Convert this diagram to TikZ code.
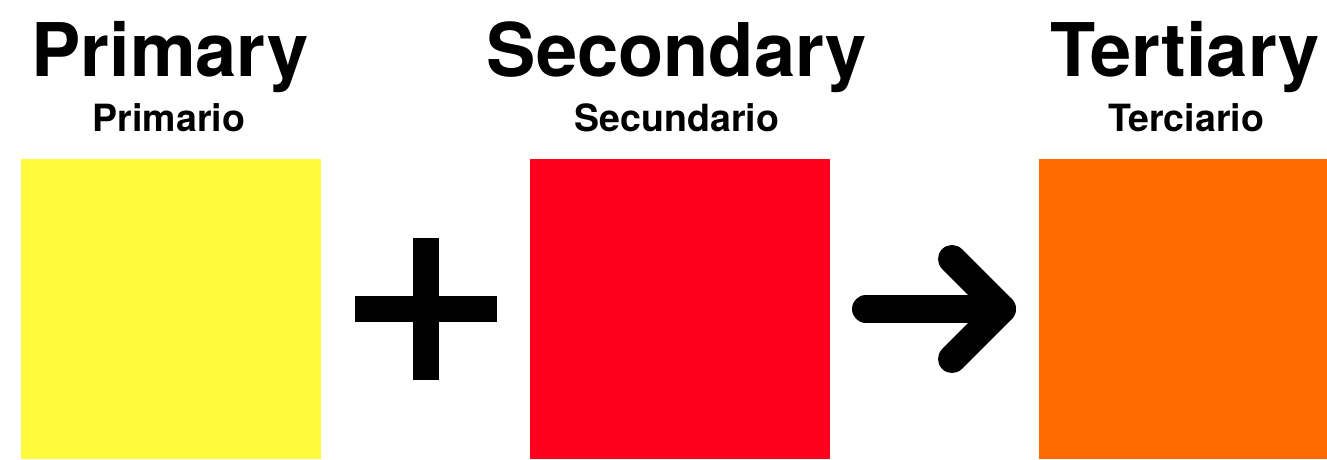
\documentclass[tikz,border=0pt]{standalone}
\usepackage{fontspec}
\setmainfont{TeX Gyre Heros}
\definecolor{cyellow}{RGB}{255,250,60}
\definecolor{cred}{RGB}{255,0,28}
\definecolor{corange}{RGB}{255,106,0}
\begin{document}
\begin{tikzpicture}[x=1pt,y=-1pt,
  title/.style={anchor=base,inner sep=0pt,font=\fontsize{74}{74}\selectfont\bfseries},
  subtitle/.style={anchor=base,inner sep=0pt,font=\fontsize{37.5}{37.5}\selectfont\bfseries},
  swatch/.style={draw=none,minimum width=300pt,minimum height=300pt,inner sep=0pt,anchor=north west},
  symbol/.style={line width=28pt,black}]
\useasboundingbox (0,0) rectangle (1327,460);
\clip (0,0) rectangle (1327,460);
% swatches
\node[swatch,fill=cyellow] (y) at (21,159) {};
\node[swatch,fill=cred] (r) at (530,159) {};
\node[swatch,fill=corange] (o) at (1039,159) {};
% titles
\node[title] (t1) at (170,77) {Primary};
\node[subtitle] (s1) at (169,131) {Primario};
\node[title] (t2) at (677,77) {Secondary};
\node[subtitle] (s2) at (677,131) {Secundario};
\node[title] (t3) at (1185,77) {Tertiary};
\node[subtitle] (s3) at (1186,131) {Terciario};
% plus
\fill[black] (354.5,296) rectangle (496.5,322);
\fill[black] (412.5,238) rectangle (438.5,380);
% arrow
\coordinate (a1) at (866,309);
\coordinate (a2) at (1002,309);
\coordinate (h1) at (952,259);
\coordinate (h2) at (952,359);
\draw[symbol,line cap=round] (a1) -- (a2);
\draw[symbol,line cap=round,line join=round] (h1) -- (a2) -- (h2);
\end{tikzpicture}
\end{document}
